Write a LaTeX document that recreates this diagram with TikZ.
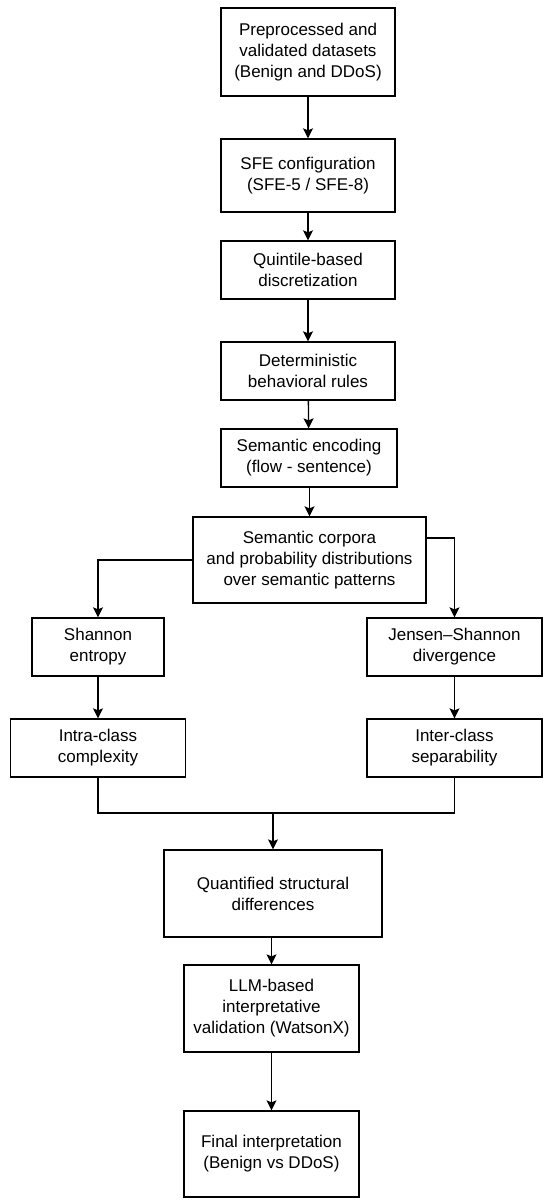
\documentclass[tikz,border=0pt]{standalone}
\usepackage{fontspec}
\setmainfont{Liberation Sans}
\usepackage{tikz}
\usetikzlibrary{arrows.meta,calc}

\begin{document}
\begin{tikzpicture}[x=1pt,y=1pt,
    box/.style={draw, line width=1.3pt, align=center, inner sep=0pt,
        font=\fontsize{17}{21}\selectfont},
    arr/.style={line width=1.3pt, -{Stealth[length=10pt,width=10pt,inset=2pt]}},
    lnk/.style={line width=1.3pt}]
    \useasboundingbox (0,0) rectangle (550,-1204);

    \node[box, minimum width=174pt, minimum height=88pt] (prep) at (308,-52) {Preprocessed and\\validated datasets\\(Benign and DDoS)};
    \node[box, minimum width=174pt, minimum height=73pt] (sfe) at (308,-175.5) {SFE configuration\\(SFE-5 / SFE-8)};
    \node[box, minimum width=174pt, minimum height=58pt] (quint) at (308,-270) {Quintile-based\\discretization};
    \node[box, minimum width=174pt, minimum height=58pt] (rules) at (308,-371) {Deterministic\\behavioral rules};
    \node[box, minimum width=176pt, minimum height=58pt] (enc) at (309,-458) {Semantic encoding\\(flow - sentence)};
    \node[box, minimum width=233pt, minimum height=86pt] (corp) at (309.5,-560) {Semantic corpora\\and probability distributions\\over semantic patterns};
    \node[box, minimum width=132pt, minimum height=58pt] (shan) at (98,-647) {Shannon\\entropy};
    \node[box, minimum width=175pt, minimum height=58pt] (jsd) at (454.5,-647) {Jensen--Shannon\\divergence};
    \node[box, minimum width=175pt, minimum height=58pt] (intra) at (98,-748) {Intra-class\\complexity};
    \node[box, minimum width=175pt, minimum height=58pt] (inter) at (454.5,-748) {Inter-class\\separability};
    \node[box, minimum width=218pt, minimum height=87pt] (quant) at (273,-893.5) {Quantified structural\\differences};
    \node[box, minimum width=175pt, minimum height=87pt] (llm) at (271.5,-1008.5) {LLM-based\\interpretative\\validation (WatsonX)};
    \node[box, minimum width=175pt, minimum height=86pt] (final) at (271.5,-1154) {Final interpretation\\(Benign vs DDoS)};

    \coordinate (corpR) at ([yshift=22pt]corp.east);
    \coordinate (mrg) at (273,-813);

    % main chain
    \draw[arr] (prep) -- (sfe);
    \draw[arr] (sfe) -- (quint);
    \draw[arr] (quint) -- (rules);
    \draw[arr] (rules) -- (enc);
    \draw[arr] (enc.south -| corp.north) -- (corp);

    % branches
    \draw[arr] (corp.west) -| (shan.north);
    \draw[arr] (corpR) -| (jsd.north);
    \draw[arr] (shan) -- (intra);
    \draw[arr] (jsd) -- (inter);

    % merge
    \draw[lnk] (intra.south) |- (mrg) -| (inter.south);
    \draw[arr] (mrg) -- (quant.north -| mrg);
    \draw[arr] (quant.south -| llm.north) -- (llm);
    \draw[arr] (llm) -- (final);
\end{tikzpicture}
\end{document}
